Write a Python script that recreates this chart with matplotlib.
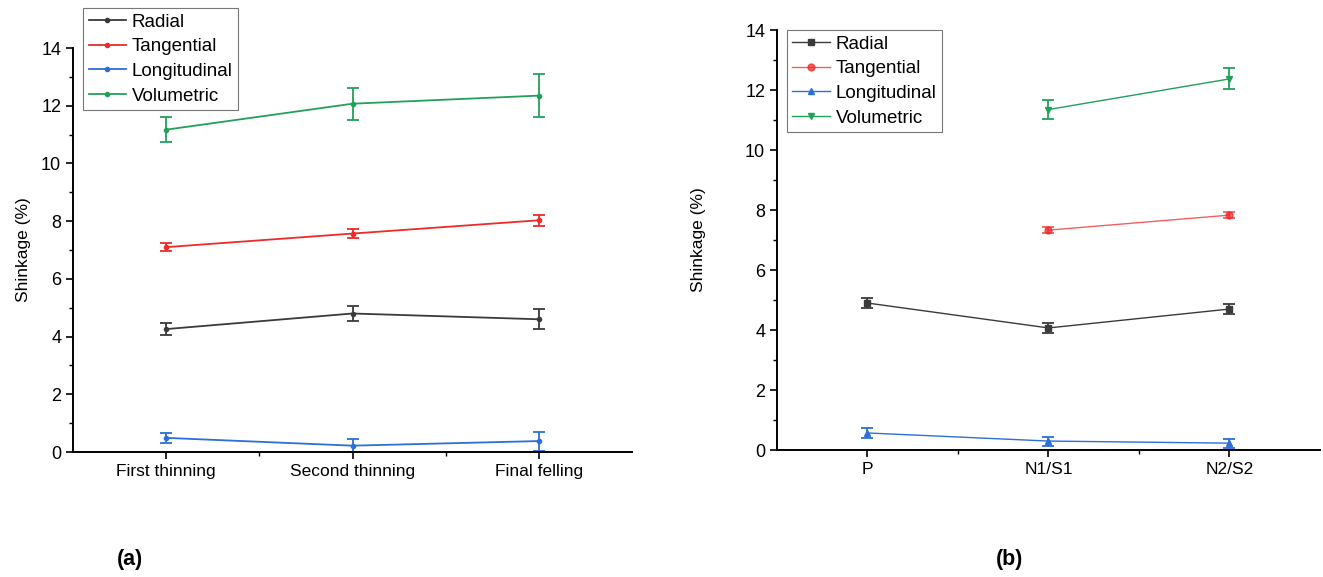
import numpy as np
from matplotlib import pyplot as plt
from matplotlib import ticker
from matplotlib.lines import Line2D

plt.rcParams["font.family"] = ["Liberation Sans", "DejaVu Sans"]
plt.rcParams["font.size"] = 12

series = ["Radial", "Tangential", "Longitudinal", "Volumetric"]
colors = ["#3a3a3a", "#ee2a2a", "#2b6fd8", "#22a05a"]

# panel (a)
cats_a = ["First thinning", "Second thinning", "Final felling"]
vals_a = {
    "Radial": [4.26, 4.80, 4.60],
    "Tangential": [7.10, 7.57, 8.03],
    "Longitudinal": [0.49, 0.22, 0.38],
    "Volumetric": [11.17, 12.07, 12.35],
}
errs_a = {
    "Radial": [0.20, 0.25, 0.35],
    "Tangential": [0.14, 0.15, 0.20],
    "Longitudinal": [0.17, 0.22, 0.33],
    "Volumetric": [0.43, 0.55, 0.75],
}

# panel (b), nan = not measured
cats_b = ["P", "N1/S1", "N2/S2"]
vals_b = {
    "Radial": [4.90, 4.07, 4.70],
    "Tangential": [np.nan, 7.33, 7.83],
    "Longitudinal": [0.57, 0.30, 0.23],
    "Volumetric": [np.nan, 11.35, 12.37],
}
errs_b = {
    "Radial": [0.17, 0.17, 0.18],
    "Tangential": [np.nan, 0.10, 0.10],
    "Longitudinal": [0.17, 0.15, 0.15],
    "Volumetric": [np.nan, 0.32, 0.35],
}
markers_b = ["s", "o", "^", "v"]

fig = plt.figure(figsize=(13.23, 5.77), dpi=100)
ax_a = fig.add_axes([0.0552, 0.2166, 0.4225, 0.7002])
ax_b = fig.add_axes([0.5873, 0.2200, 0.4104, 0.7280])


def style(ax, cats):
    ax.set_xlim(-0.5, 2.5)
    ax.set_ylim(0, 14)
    ax.set_xticks(range(len(cats)))
    ax.set_xticklabels(cats, fontsize=12.5)
    ax.xaxis.set_minor_locator(ticker.FixedLocator([0.5, 1.5]))
    ax.yaxis.set_major_locator(ticker.MultipleLocator(2))
    ax.yaxis.set_minor_locator(ticker.MultipleLocator(1))
    ax.tick_params(which="major", direction="out", length=5, width=1.2)
    ax.tick_params(axis="y", labelsize=13)
    ax.tick_params(which="minor", direction="out", length=3, width=1.0)
    ax.spines["top"].set_visible(False)
    ax.spines["right"].set_visible(False)
    ax.spines["left"].set_linewidth(1.4)
    ax.spines["bottom"].set_linewidth(1.4)
    ax.set_ylabel("Shinkage (%)", fontsize=12.5)


def legend(ax, handles, anchor):
    leg = ax.legend(handles=handles, loc="upper left", bbox_to_anchor=anchor, fontsize=13.5,
                    frameon=True, fancybox=False, edgecolor="#555555",
                    borderpad=0.3, labelspacing=0.4, handlelength=2.0, handletextpad=0.3,
                    borderaxespad=0)
    leg.get_frame().set_linewidth(0.8)


x = np.arange(3)
for s, c in zip(series, colors):
    ax_a.errorbar(x, vals_a[s], yerr=errs_a[s], color=c, marker="o", markersize=3,
                  lw=1.3, capsize=4, elinewidth=1.3, capthick=1.3)
style(ax_a, cats_a)
ax_a.yaxis.set_label_coords(-0.075, 0.5)
legend(ax_a, [Line2D([], [], color=c, marker="o", markersize=3, lw=1.3, label=s)
              for s, c in zip(series, colors)], (0.018, 1.099))

for s, c, m in zip(series, colors, markers_b):
    alpha = 0.75 if s == "Tangential" else 1.0
    ax_b.errorbar(x, vals_b[s], yerr=errs_b[s], color=c, marker=m, markersize=5,
                  lw=1.0, alpha=alpha, capsize=4, elinewidth=1.3, capthick=1.3)
style(ax_b, cats_b)
ax_b.yaxis.set_label_coords(-0.13, 0.5)
legend(ax_b, [Line2D([], [], color=c, marker=m, markersize=5, lw=1.0,
                     alpha=0.75 if s == "Tangential" else 1.0, label=s)
              for s, c, m in zip(series, colors, markers_b)], (0.018, 1.0))

fig.text(130 / 1323, 1 - 560 / 577, "(a)", fontsize=15.5, fontweight="bold", ha="center", va="center")
fig.text(1010 / 1323, 1 - 560 / 577, "(b)", fontsize=15.5, fontweight="bold", ha="center", va="center")

fig.savefig("out.png")
